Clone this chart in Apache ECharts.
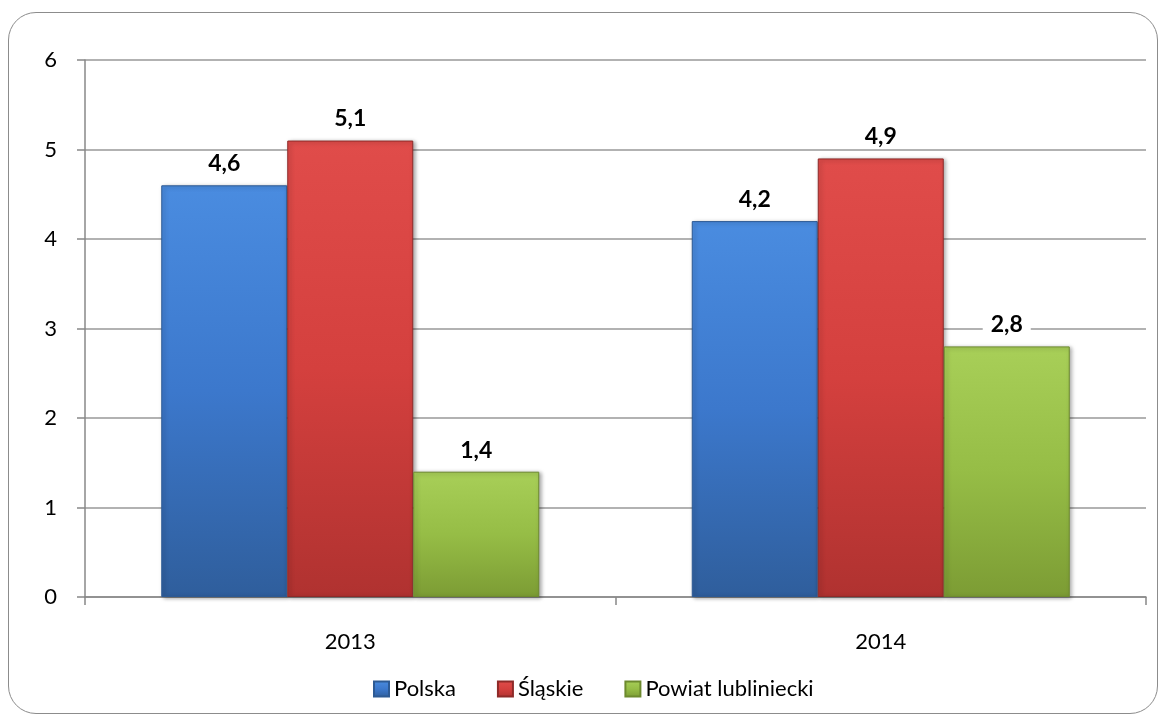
<!DOCTYPE html>
<html>
<head>
<meta charset="utf-8">
<script src="https://cdn.jsdelivr.net/npm/echarts@6/dist/echarts.min.js"></script>
<style>
  html, body { margin: 0; padding: 0; background: #fff; }
  .frame {
    position: absolute; left: 8px; top: 12px; width: 1150px; height: 702px;
    border: 1.5px solid #8c8c8c; border-radius: 28px; box-sizing: border-box;
  }
  #chart { position: absolute; left: 0; top: 0; width: 1167px; height: 722px; }
</style>
</head>
<body>
<div class="frame"></div>
<div id="chart"></div>
<script>
// dane z wykresu
const years = ["2013", "2014"];
const polska = [4.6, 4.2];
const slaskie = [5.1, 4.9];
const powiat = [1.4, 2.8];
const yTicks = [0, 1, 2, 3, 4, 5, 6];

function grad(top, mid, bottom) {
  return new echarts.graphic.LinearGradient(0, 0, 0, 1, [
    { offset: 0, color: top },
    { offset: 0.5, color: mid },
    { offset: 1, color: bottom },
  ]);
}

function mkSeries(name, data, c, edge) {
  return {
    name: name,
    type: "bar",
    data: data,
    barWidth: 126,
    barGap: "0%",
    itemStyle: {
      color: grad(c[0], c[1], c[2]),
      borderColor: edge,
      borderWidth: 1,
      shadowColor: "rgba(0,0,0,0.35)",
      shadowBlur: 4,
      shadowOffsetX: 2,
      shadowOffsetY: 1,
    },
    label: {
      show: true,
      position: "top",
      distance: 10,
      color: "#000",
      fontFamily: "Lato",
      fontWeight: "bold",
      fontSize: 23,
      backgroundColor: "#fff",
      padding: [0, 8],
      formatter: (p) => String(p.value).replace(".", ","),
    },
  };
}

const chart = echarts.init(document.getElementById("chart"));
chart.setOption({
  animation: false,
  textStyle: { fontFamily: "Lato" },
  grid: { left: 85, right: 21, top: 60, bottom: 125 },
  legend: {
    bottom: 17,
    left: 368,
    itemWidth: 15,
    itemHeight: 15,
    itemGap: 41,
    icon: "rect",
    textStyle: { fontSize: 22, color: "#000", fontFamily: "Lato" },
    data: ["Polska", "Śląskie", "Powiat lubliniecki"],
  },
  xAxis: {
    type: "category",
    data: years,
    axisLine: { lineStyle: { color: "#888", width: 1.5 } },
    axisTick: { show: true, length: 8, lineStyle: { color: "#888", width: 1.5 } },
    axisLabel: { color: "#000", fontSize: 22, margin: 34 },
  },
  yAxis: {
    type: "value",
    min: yTicks[0],
    max: yTicks[yTicks.length - 1],
    interval: 1,
    axisLine: { show: true, lineStyle: { color: "#888", width: 1.5 } },
    axisTick: { show: true, length: 8, lineStyle: { color: "#888", width: 1.5 } },
    axisLabel: { color: "#000", fontSize: 22, margin: 28 },
    splitLine: { lineStyle: { color: "#999", width: 1.5 } },
  },
  series: [
    mkSeries("Polska", polska, ["#4a8ce0", "#3c78cc", "#2f5e9c"], "#2d5a94"),
    mkSeries("Śląskie", slaskie, ["#e04c4a", "#d4403e", "#b03230"], "#8e2a28"),
    mkSeries("Powiat lubliniecki", powiat, ["#a8cf58", "#96bd46", "#7c9c34"], "#6d8a2e"),
  ],
});
</script>
</body>
</html>
